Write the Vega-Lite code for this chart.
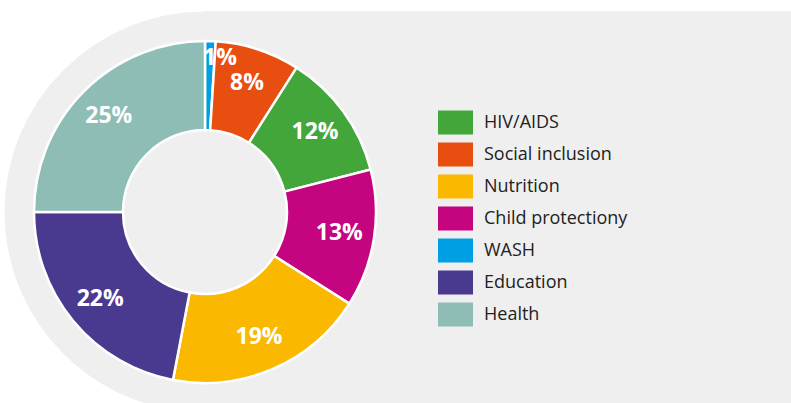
{
  "$schema": "https://vega.github.io/schema/vega-lite/v6.json",
  "width": 586,
  "height": 392,
  "autosize": {"type": "none"},
  "padding": {"left": 205, "top": 11, "right": 0, "bottom": 0},
  "background": "white",
  "config": {"view": {"fill": "#efefef", "stroke": null}, "font": "Open Sans"},
  "data": {"values": [
    {"category": "WASH", "value": 1, "slice": 1},
    {"category": "Social inclusion", "value": 8, "slice": 2},
    {"category": "HIV/AIDS", "value": 12, "slice": 3},
    {"category": "Child protectiony", "value": 13, "slice": 4},
    {"category": "Nutrition", "value": 19, "slice": 5},
    {"category": "Education", "value": 22, "slice": 6},
    {"category": "Health", "value": 25, "slice": 7}
  ]},
  "transform": [{"calculate": "datum.value + '%'", "as": "label"}],
  "encoding": {
    "theta": {"field": "value", "type": "quantitative", "stack": true},
    "order": {"field": "slice", "type": "quantitative"},
    "x": {"value": 0},
    "y": {"value": 201}
  },
  "layer": [
    {"mark": {"type": "arc", "radius": 200, "radius2": 0, "fill": "#efefef", "stroke": "#efefef", "strokeWidth": 1}},
    {
      "mark": {"type": "arc", "radius": 171, "radius2": 82, "stroke": "white", "strokeWidth": 2.5},
      "encoding": {
        "color": {
          "field": "category",
          "type": "nominal",
          "scale": {
            "domain": ["HIV/AIDS", "Social inclusion", "Nutrition", "Child protectiony", "WASH", "Education", "Health"],
            "range": ["#43a63a", "#e84e10", "#fbb800", "#c5047f", "#009fe3", "#4a3a8f", "#8dbdb5"]
          },
          "legend": {
            "orient": "none",
            "legendX": 233,
            "legendY": 94,
            "title": null,
            "padding": 0,
            "symbolType": "M-1,-0.686L1,-0.686L1,0.686L-1,0.686Z",
            "symbolSize": 1225,
            "symbolStrokeWidth": 0,
            "symbolOpacity": 1,
            "labelFontSize": 18,
            "labelFont": "Open Sans",
            "labelColor": "#222222",
            "labelLimit": 300,
            "labelOffset": 11,
            "rowPadding": 2
          }
        }
      }
    },
    {
      "mark": {"type": "text", "radius": 136, "fontSize": 23, "fontWeight": "bold", "fill": "white"},
      "encoding": {
        "text": {"field": "label"},
        "opacity": {"condition": {"test": "datum.value > 1", "value": 1}, "value": 0}
      }
    },
    {
      "mark": {"type": "text", "radius": 157, "dx": 10, "dy": 3, "fontSize": 23, "fontWeight": "bold", "fill": "white"},
      "encoding": {
        "text": {"field": "label"},
        "opacity": {"condition": {"test": "datum.value == 1", "value": 1}, "value": 0}
      }
    }
  ]
}
